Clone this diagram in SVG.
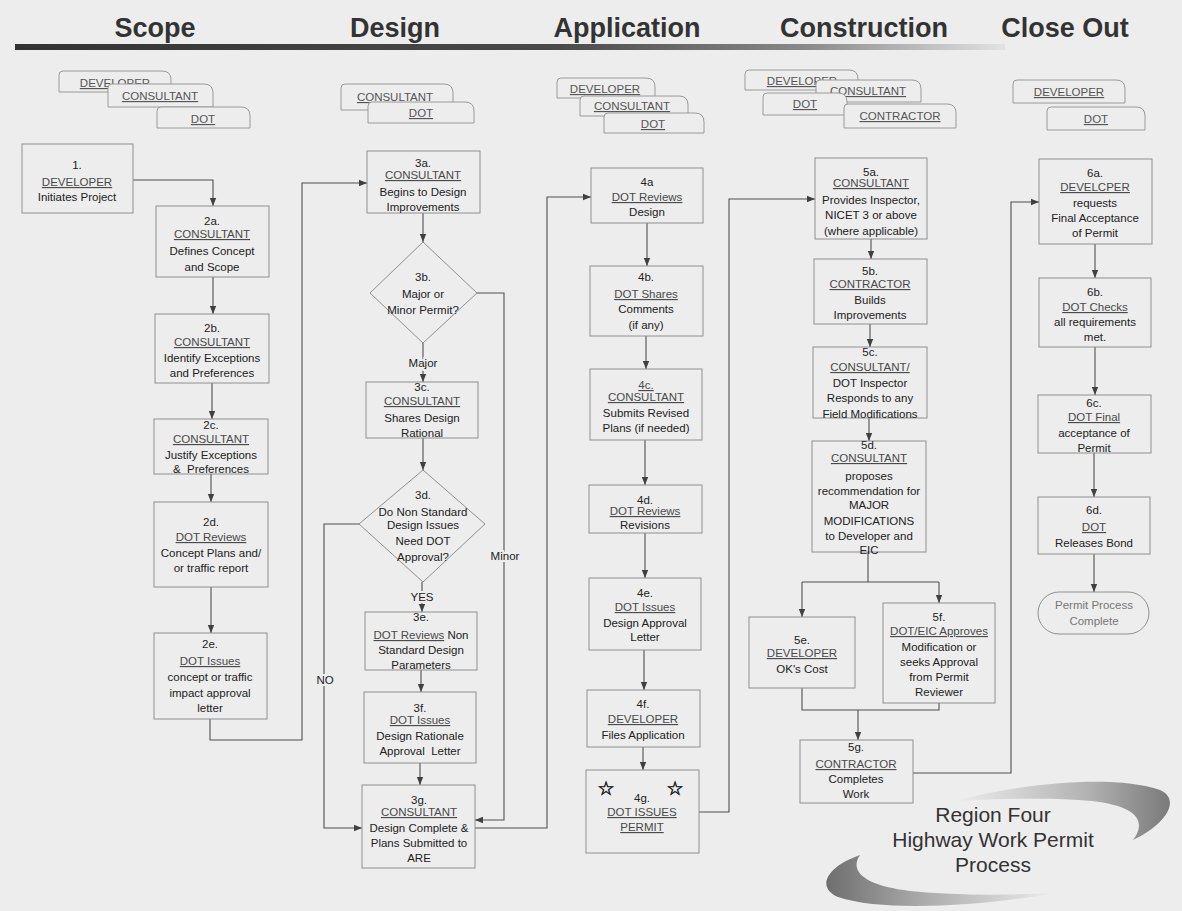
<svg xmlns="http://www.w3.org/2000/svg" width="1182" height="911" viewBox="0 0 1182 911">
<style>
.bg{fill:#ededed}
.hd{font-family:"Liberation Sans",Arial,sans-serif;font-size:27px;font-weight:bold;fill:#333;text-anchor:middle}
.tab{fill:#ededed;stroke:#9a9a9a;stroke-width:1}
.tt{font-family:"Liberation Sans",Arial,sans-serif;font-size:11.5px;fill:#555;text-anchor:middle;text-decoration:underline}
.box{fill:#ededed;stroke:#909090;stroke-width:1}
.t{font-family:"Liberation Sans",Arial,sans-serif;font-size:11.5px;fill:#222;text-anchor:middle}
.u{text-decoration:underline;fill:#4a4a4a}
.conn{fill:none;stroke:#505050;stroke-width:1.1}
.arr{marker-end:url(#ah)}
.lbl{font-family:"Liberation Sans",Arial,sans-serif;font-size:11.5px;fill:#222;text-anchor:middle;stroke:#ededed;stroke-width:4;paint-order:stroke}
.star{font-family:"DejaVu Sans",sans-serif;font-size:19px;fill:#222;stroke:#222;stroke-width:0.6;text-anchor:middle}
.ttl{font-family:"Liberation Sans",Arial,sans-serif;font-size:21px;fill:#333;text-anchor:middle}
.end{font-family:"Liberation Sans",Arial,sans-serif;font-size:11.5px;fill:#777;text-anchor:middle}
</style>
<defs>
<marker id="ah" viewBox="0 0 10 10" refX="10" refY="5" markerWidth="8" markerHeight="8" markerUnits="userSpaceOnUse" orient="auto"><path d="M0,1 L10,5 L0,9 Z" fill="#404040"/></marker>
<linearGradient id="bar" x1="0" y1="0" x2="1" y2="0"><stop offset="0" stop-color="#333"/><stop offset="0.55" stop-color="#4a4a4a"/><stop offset="0.8" stop-color="#8a8a8a"/><stop offset="1" stop-color="#e2e2e2"/></linearGradient>
<linearGradient id="sw1" x1="0" y1="0" x2="1" y2="0"><stop offset="0" stop-color="#ededed"/><stop offset="0.6" stop-color="#b4b4b4"/><stop offset="1" stop-color="#7a7a7a"/></linearGradient>
<linearGradient id="sw2" x1="0" y1="0" x2="1" y2="0"><stop offset="0" stop-color="#6e6e6e"/><stop offset="0.4" stop-color="#a8a8a8"/><stop offset="1" stop-color="#ededed"/></linearGradient>
</defs>
<rect class="bg" x="0" y="0" width="1182" height="911"/>

<g id="headers">
<text class="hd" x="155" y="37">Scope</text>
<text class="hd" x="395" y="37">Design</text>
<text class="hd" x="627" y="37">Application</text>
<text class="hd" x="864" y="37">Construction</text>
<text class="hd" x="1065" y="37">Close Out</text>
<rect x="15" y="44" width="990" height="6" fill="url(#bar)"/>
</g>

<g id="tabs-scope">
<path class="tab" d="M59,92 V75 Q59,71 63,71 H162 Q171,71 171,80 V92 Z"/><text class="tt" x="115" y="87">DEVELOPER</text>
<path class="tab" d="M108,107 V88 Q108,84 112,84 H204 Q213,84 213,93 V107 Z"/><text class="tt" x="160" y="100">CONSULTANT</text>
<path class="tab" d="M157,128 V111 Q157,107 161,107 H241 Q250,107 250,116 V128 Z"/><text class="tt" x="203" y="123">DOT</text>
</g>
<g id="tabs-design">
<path class="tab" d="M341,110 V88 Q341,84 345,84 H444 Q453,84 453,93 V110 Z"/><text class="tt" x="395" y="101">CONSULTANT</text>
<path class="tab" d="M368,123 V106 Q368,102 372,102 H465 Q474,102 474,111 V123 Z"/><text class="tt" x="421" y="117">DOT</text>
</g>
<g id="tabs-application">
<path class="tab" d="M557,98 V82 Q557,78 561,78 H646 Q655,78 655,87 V98 Z"/><text class="tt" x="605" y="93">DEVELOPER</text>
<path class="tab" d="M580,116 V100 Q580,96 584,96 H679 Q688,96 688,105 V116 Z"/><text class="tt" x="632" y="110">CONSULTANT</text>
<path class="tab" d="M604,133 V117 Q604,113 608,113 H695 Q704,113 704,122 V133 Z"/><text class="tt" x="653" y="128">DOT</text>
</g>
<g id="tabs-construction">
<path class="tab" d="M745,90 V74 Q745,70 749,70 H849 Q858,70 858,79 V90 Z"/><text class="tt" x="802" y="85">DEVELOPER</text>
<path class="tab" d="M816,102 V84 Q816,80 820,80 H912 Q921,80 921,89 V102 Z"/><text class="tt" x="868" y="95">CONSULTANT</text>
<path class="tab" d="M763,115 V97 Q763,93 767,93 H838 Q847,93 847,102 V115 Z"/><text class="tt" x="805" y="108">DOT</text>
<path class="tab" d="M844,128 V108 Q844,104 848,104 H947 Q956,104 956,113 V128 Z"/><text class="tt" x="900" y="120">CONTRACTOR</text>
</g>
<g id="tabs-closeout">
<path class="tab" d="M1013,103 V84 Q1013,80 1017,80 H1116 Q1125,80 1125,89 V103 Z"/><text class="tt" x="1069" y="96">DEVELOPER</text>
<path class="tab" d="M1047,130 V111 Q1047,107 1051,107 H1136 Q1145,107 1145,116 V130 Z"/><text class="tt" x="1096" y="123">DOT</text>
</g>

<g id="connectors">
<path class="conn arr" d="M133,180 H213 V206"/>
<path class="conn arr" d="M213,277 V314"/>
<path class="conn arr" d="M212,383 V419"/>
<path class="conn arr" d="M211,474 V502"/>
<path class="conn arr" d="M211,587 V633"/>
<path class="conn arr" d="M210,719 V740 H302 V183 H367"/>
<path class="conn arr" d="M423,213 V242"/>
<path class="conn arr" d="M423,343 V382"/>
<path class="conn arr" d="M477,293 H504 V820 H475"/>
<path class="conn arr" d="M423,438 V470"/>
<path class="conn arr" d="M422,582 V612"/>
<path class="conn arr" d="M359,524 H324 V828 H362"/>
<path class="conn arr" d="M421,670 V692"/>
<path class="conn arr" d="M420,763 V785"/>
<path class="conn arr" d="M475,828 H547 V197 H591"/>
<path class="conn arr" d="M647,223 V266"/>
<path class="conn arr" d="M646,336 V369"/>
<path class="conn arr" d="M645,440 V485"/>
<path class="conn arr" d="M645,533 V578"/>
<path class="conn arr" d="M644,650 V690"/>
<path class="conn arr" d="M643,747 V770"/>
<path class="conn arr" d="M699,812 H729 V199 H815"/>
<path class="conn arr" d="M871,239 V259"/>
<path class="conn arr" d="M870,324 V347"/>
<path class="conn arr" d="M869,418 V441"/>
<path class="conn" d="M868,552 V582 M802,582 H939"/>
<path class="conn arr" d="M802,582 V617"/>
<path class="conn arr" d="M939,582 V603"/>
<path class="conn" d="M802,688 V710 H939 V703"/>
<path class="conn arr" d="M858,710 V740"/>
<path class="conn arr" d="M913,773 H1011 V202 H1039"/>
<path class="conn arr" d="M1095,244 V278"/>
<path class="conn arr" d="M1095,347 V395"/>
<path class="conn arr" d="M1094,453 V497"/>
<path class="conn arr" d="M1094,554 V592"/>
<text class="lbl" x="423" y="367">Major</text>
<text class="lbl" x="505" y="560">Minor</text>
<text class="lbl" x="422" y="601">YES</text>
<text class="lbl" x="325" y="684">NO</text>
</g>

<g id="n1"><rect class="box" x="22" y="144" width="111" height="69"/>
<text class="t" x="77" y="169">1.</text><text class="t u" x="77" y="186">DEVELOPER</text><text class="t" x="77" y="201">Initiates Project</text></g>
<g id="n2a"><rect class="box" x="156" y="206" width="113" height="71"/>
<text class="t" x="212" y="225">2a.</text><text class="t u" x="212" y="238">CONSULTANT</text><text class="t" x="212" y="255">Defines Concept</text><text class="t" x="212" y="271">and Scope</text></g>
<g id="n2b"><rect class="box" x="155" y="314" width="114" height="69"/>
<text class="t" x="212" y="332">2b.</text><text class="t u" x="212" y="346">CONSULTANT</text><text class="t" x="212" y="362">Identify Exceptions</text><text class="t" x="212" y="377">and Preferences</text></g>
<g id="n2c"><rect class="box" x="154" y="419" width="114" height="55"/>
<text class="t" x="211" y="429">2c.</text><text class="t u" x="211" y="443">CONSULTANT</text><text class="t" x="211" y="459">Justify Exceptions</text><text class="t" x="211" y="473" xml:space="preserve">&amp;  Preferences</text></g>
<g id="n2d"><rect class="box" x="154" y="502" width="114" height="85"/>
<text class="t" x="211" y="526">2d.</text><text class="t u" x="211" y="541">DOT Reviews</text><text class="t" x="211" y="557">Concept Plans and/</text><text class="t" x="211" y="572">or traffic report</text></g>
<g id="n2e"><rect class="box" x="154" y="633" width="113" height="86"/>
<text class="t" x="210" y="648">2e.</text><text class="t u" x="210" y="665">DOT Issues</text><text class="t" x="210" y="681">concept or traffic</text><text class="t" x="210" y="697">impact approval</text><text class="t" x="210" y="712">letter</text></g>

<g id="n3a"><rect class="box" x="367" y="151" width="113" height="62"/>
<text class="t" x="423" y="167">3a.</text><text class="t u" x="423" y="179">CONSULTANT</text><text class="t" x="423" y="196">Begins to Design</text><text class="t" x="423" y="211">Improvements</text></g>
<g id="n3b"><path class="box" d="M423,242 L477,293 L423,343 L370,293 Z"/>
<text class="t" x="423" y="281">3b.</text><text class="t" x="423" y="298">Major or</text><text class="t" x="423" y="314">Minor Permit?</text></g>
<g id="n3c"><rect class="box" x="366" y="382" width="112" height="56"/>
<text class="t" x="422" y="391">3c.</text><text class="t u" x="422" y="405">CONSULTANT</text><text class="t" x="422" y="422">Shares Design</text><text class="t" x="422" y="437">Rational</text></g>
<g id="n3d"><path class="box" d="M423,470 L485,524 L423,582 L359,524 Z"/>
<text class="t" x="423" y="499">3d.</text><text class="t" x="423" y="516">Do Non Standard</text><text class="t" x="423" y="529">Design Issues</text><text class="t" x="423" y="545">Need DOT</text><text class="t" x="423" y="561">Approval?</text></g>
<g id="n3e"><rect class="box" x="365" y="612" width="112" height="58"/>
<text class="t" x="421" y="621">3e.</text><text class="t" x="421" y="639"><tspan class="u">DOT Reviews</tspan> Non</text><text class="t" x="421" y="654">Standard Design</text><text class="t" x="421" y="669">Parameters</text></g>
<g id="n3f"><rect class="box" x="364" y="692" width="112" height="71"/>
<text class="t" x="420" y="712">3f.</text><text class="t u" x="420" y="724">DOT Issues</text><text class="t" x="420" y="740">Design Rationale</text><text class="t" x="420" y="755" xml:space="preserve">Approval  Letter</text></g>
<g id="n3g"><rect class="box" x="362" y="785" width="113" height="83"/>
<text class="t" x="419" y="804">3g.</text><text class="t u" x="419" y="816">CONSULTANT</text><text class="t" x="419" y="832">Design Complete &amp;</text><text class="t" x="419" y="847">Plans Submitted to</text><text class="t" x="419" y="862">ARE</text></g>

<g id="n4a"><rect class="box" x="591" y="168" width="112" height="55"/>
<text class="t" x="647" y="186">4a</text><text class="t u" x="647" y="201">DOT Reviews</text><text class="t" x="647" y="216">Design</text></g>
<g id="n4b"><rect class="box" x="590" y="266" width="113" height="70"/>
<text class="t" x="646" y="281">4b.</text><text class="t u" x="646" y="298">DOT Shares</text><text class="t" x="646" y="313">Comments</text><text class="t" x="646" y="329">(if any)</text></g>
<g id="n4c"><rect class="box" x="590" y="369" width="112" height="71"/>
<text class="t u" x="646" y="389">4c.</text><text class="t u" x="646" y="401">CONSULTANT</text><text class="t" x="646" y="417">Submits Revised</text><text class="t" x="646" y="432">Plans (if needed)</text></g>
<g id="n4d"><rect class="box" x="589" y="485" width="113" height="48"/>
<text class="t" x="645" y="504">4d.</text><text class="t u" x="645" y="515">DOT Reviews</text><text class="t" x="645" y="529">Revisions</text></g>
<g id="n4e"><rect class="box" x="589" y="578" width="112" height="72"/>
<text class="t" x="645" y="597">4e.</text><text class="t u" x="645" y="611">DOT Issues</text><text class="t" x="645" y="627">Design Approval</text><text class="t" x="645" y="641">Letter</text></g>
<g id="n4f"><rect class="box" x="587" y="690" width="113" height="57"/>
<text class="t" x="643" y="708">4f.</text><text class="t u" x="643" y="723">DEVELOPER</text><text class="t" x="643" y="739">Files Application</text></g>
<g id="n4g"><rect class="box" x="586" y="770" width="113" height="83"/>
<text class="star" x="606" y="795">☆</text><text class="star" x="675" y="795">☆</text>
<text class="t" x="642" y="802">4g.</text><text class="t u" x="642" y="816">DOT ISSUES</text><text class="t u" x="642" y="831">PERMIT</text></g>

<g id="n5a"><rect class="box" x="815" y="158" width="112" height="81"/>
<text class="t" x="871" y="176">5a.</text><text class="t u" x="871" y="187">CONSULTANT</text><text class="t" x="871" y="204">Provides Inspector,</text><text class="t" x="871" y="219">NICET 3 or above</text><text class="t" x="871" y="235">(where applicable)</text></g>
<g id="n5b"><rect class="box" x="814" y="259" width="113" height="65"/>
<text class="t" x="870" y="275">5b.</text><text class="t u" x="870" y="288">CONTRACTOR</text><text class="t" x="870" y="304">Builds</text><text class="t" x="870" y="319">Improvements</text></g>
<g id="n5c"><rect class="box" x="813" y="347" width="114" height="71"/>
<text class="t" x="870" y="356">5c.</text><text class="t u" x="870" y="371">CONSULTANT/</text><text class="t" x="870" y="387">DOT Inspector</text><text class="t" x="870" y="402">Responds to any</text><text class="t" x="870" y="418">Field Modifications</text></g>
<g id="n5d"><rect class="box" x="812" y="441" width="114" height="111"/>
<text class="t" x="869" y="449">5d.</text><text class="t u" x="869" y="462">CONSULTANT</text><text class="t" x="869" y="480">proposes</text><text class="t" x="869" y="495">recommendation for</text><text class="t" x="869" y="509">MAJOR</text><text class="t" x="869" y="525">MODIFICATIONS</text><text class="t" x="869" y="540">to Developer and</text><text class="t" x="869" y="554">EIC</text></g>
<g id="n5e"><rect class="box" x="749" y="617" width="106" height="71"/>
<text class="t" x="802" y="644">5e.</text><text class="t u" x="802" y="657">DEVELOPER</text><text class="t" x="802" y="673">OK's Cost</text></g>
<g id="n5f"><rect class="box" x="883" y="603" width="112" height="100"/>
<text class="t" x="939" y="621">5f.</text><text class="t u" x="939" y="635">DOT/EIC Approves</text><text class="t" x="939" y="651">Modification or</text><text class="t" x="939" y="666">seeks Approval</text><text class="t" x="939" y="681">from Permit</text><text class="t" x="939" y="696">Reviewer</text></g>
<g id="n5g"><rect class="box" x="800" y="740" width="113" height="63"/>
<text class="t" x="856" y="751">5g.</text><text class="t u" x="856" y="768">CONTRACTOR</text><text class="t" x="856" y="783">Completes</text><text class="t" x="856" y="798">Work</text></g>

<g id="n6a"><rect class="box" x="1039" y="159" width="113" height="85"/>
<text class="t" x="1095" y="177">6a.</text><text class="t u" x="1095" y="191">DEVELCPER</text><text class="t" x="1095" y="207">requests</text><text class="t" x="1095" y="222">Final Acceptance</text><text class="t" x="1095" y="237">of Permit</text></g>
<g id="n6b"><rect class="box" x="1039" y="278" width="112" height="69"/>
<text class="t" x="1095" y="296">6b.</text><text class="t u" x="1095" y="311">DOT Checks</text><text class="t" x="1095" y="326">all requirements</text><text class="t" x="1095" y="341">met.</text></g>
<g id="n6c"><rect class="box" x="1038" y="395" width="113" height="58"/>
<text class="t" x="1094" y="407">6c.</text><text class="t u" x="1094" y="421">DOT Final</text><text class="t" x="1094" y="437">acceptance of</text><text class="t" x="1094" y="452">Permit</text></g>
<g id="n6d"><rect class="box" x="1038" y="497" width="112" height="57"/>
<text class="t" x="1094" y="514">6d.</text><text class="t u" x="1094" y="531">DOT</text><text class="t" x="1094" y="547">Releases Bond</text></g>
<g id="nend"><rect class="box" x="1038" y="592" width="111" height="42" rx="21" ry="21"/>
<text class="end" x="1094" y="609">Permit Process</text><text class="end" x="1094" y="625">Complete</text></g>

<g id="title">
<path d="M955,801 C1020,783 1115,774 1160,790 C1182,800 1165,825 1133,840 C1148,820 1135,806 1092,801 C1050,797 1000,799 955,801 Z" fill="url(#sw1)"/>
<path d="M1055,893 C990,905 885,913 838,897 C815,887 828,866 860,855 C848,873 868,886 910,891 C960,896 1010,895 1055,893 Z" fill="url(#sw2)"/>
<text class="ttl" x="993" y="822">Region Four</text>
<text class="ttl" x="993" y="847">Highway Work Permit</text>
<text class="ttl" x="993" y="872">Process</text>
</g>
</svg>
